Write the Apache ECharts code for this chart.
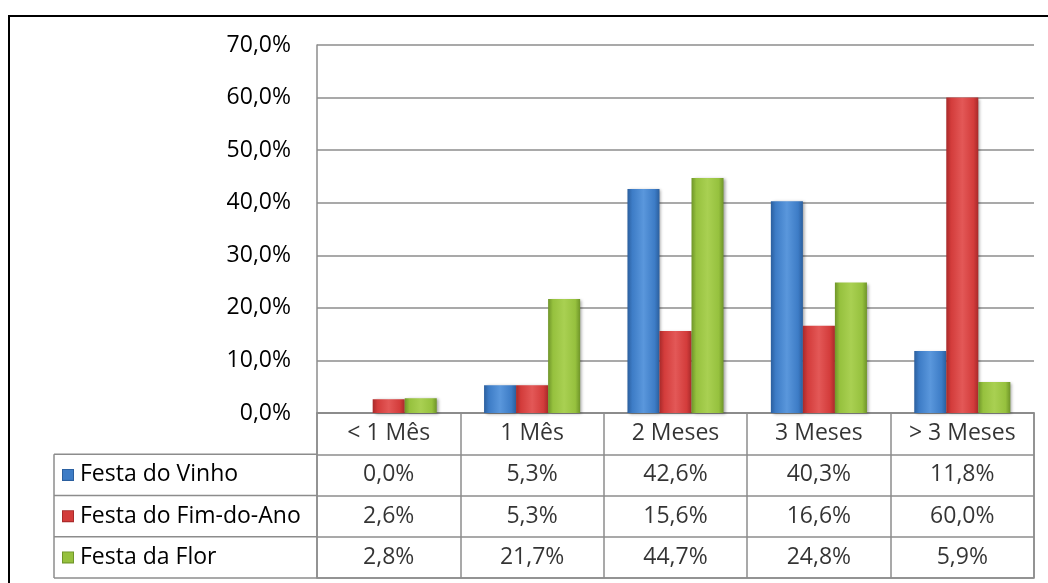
<!DOCTYPE html>
<html>
<head>
<meta charset="utf-8">
<script src="https://cdn.jsdelivr.net/npm/echarts@6/dist/echarts.min.js"></script>
<style>
  html, body { margin: 0; padding: 0; background: #fff; }
  #chart { width: 1048px; height: 583px; }
</style>
</head>
<body>
<div id="chart"></div>
<script>
// Categories (time before the festival) and the share for each festival
const categories = ['< 1 Mês', '1 Mês', '2 Meses', '3 Meses', '> 3 Meses'];
const seriesNames = ['Festa do Vinho', 'Festa do Fim-do-Ano', 'Festa da Flor'];
const festaVinho = [0.0, 5.3, 42.6, 40.3, 11.8];
const festaFimAno = [2.6, 5.3, 15.6, 16.6, 60.0];
const festaFlor = [2.8, 21.7, 44.7, 24.8, 5.9];
const yTicks = [0, 10, 20, 30, 40, 50, 60, 70];

const seriesValues = [festaVinho, festaFimAno, festaFlor];
const baseColors = ['#3d7cc6', '#d33c3b', '#96c13e'];
const edgeColors = ['#2b5f9e', '#a82a2a', '#6f9529'];
const lightColors = ['#5a97dc', '#e35857', '#a9d052'];

const FONT = 'Open Sans';
const FONT_SIZE = 23;
const fmt = v => v.toFixed(1).replace('.', ',') + '%';

// Layout of the plot and the data table beneath it
const plotLeft = 317, plotRight = 1034, plotTop = 45, plotBottom = 413;
const tableBottom = 578;
const rowH = (tableBottom - plotBottom) / 4;
const legendLeft = 54;

function barGradient(i) {
  return new echarts.graphic.LinearGradient(0, 0, 1, 0, [
    { offset: 0, color: edgeColors[i] },
    { offset: 0.15, color: baseColors[i] },
    { offset: 0.5, color: lightColors[i] },
    { offset: 0.85, color: baseColors[i] },
    { offset: 1, color: edgeColors[i] }
  ]);
}

// Table cells: header row with the categories, then one row per festival
const tableCells = [];
categories.forEach((c, ci) => tableCells.push([ci, 0, c]));
seriesValues.forEach((vals, si) => {
  vals.forEach((v, ci) => tableCells.push([ci, si + 1, fmt(v)]));
});

const rowLabels = [''].concat(seriesNames);

const chart = echarts.init(document.getElementById('chart'), null, { renderer: 'canvas' });

const barSeries = seriesValues.map((vals, i) => ({
  name: seriesNames[i],
  type: 'bar',
  xAxisIndex: 0,
  yAxisIndex: 0,
  data: vals,
  barGap: '0%',
  barCategoryGap: '33%',
  itemStyle: {
    color: barGradient(i),
    shadowColor: 'rgba(0,0,0,0.35)',
    shadowBlur: 3,
    shadowOffsetX: 2,
    shadowOffsetY: 1
  },
  animation: false
}));

const legendLines = [];
for (let r = 1; r <= 4; r++) {
  const y = plotBottom + r * rowH;
  legendLines.push({
    type: 'line',
    shape: { x1: legendLeft, y1: y, x2: plotLeft, y2: y },
    style: { stroke: '#8c8c8c', lineWidth: 1.5 }
  });
}
legendLines.push({
  type: 'line',
  shape: { x1: legendLeft, y1: plotBottom + rowH, x2: legendLeft, y2: tableBottom },
  style: { stroke: '#8c8c8c', lineWidth: 1.5 }
});

const rich = {};
seriesNames.forEach((n, i) => {
  rich['k' + i] = { width: 10, height: 10, backgroundColor: baseColors[i], borderColor: edgeColors[i], borderWidth: 1 };
});
rich.t = { fontFamily: FONT, fontSize: FONT_SIZE, color: '#000', padding: [0, 0, 0, 7] };

chart.setOption({
  animation: false,
  backgroundColor: '#fff',
  grid: [
    { left: plotLeft, right: 1048 - plotRight, top: plotTop, height: plotBottom - plotTop },
    { left: plotLeft, right: 1048 - plotRight, top: plotBottom, height: tableBottom - plotBottom,
      show: true, borderColor: '#8c8c8c', borderWidth: 1.5 }
  ],
  xAxis: [
    {
      gridIndex: 0, type: 'category', data: categories,
      axisLine: { show: true, lineStyle: { color: '#8c8c8c', width: 1.5 } },
      axisTick: { show: false }, axisLabel: { show: false }, splitLine: { show: false }
    },
    {
      gridIndex: 1, type: 'category', data: categories,
      axisLine: { show: false }, axisTick: { show: false }, axisLabel: { show: false },
      splitLine: { show: true, interval: 0, lineStyle: { color: '#8c8c8c', width: 1.5 } }
    }
  ],
  yAxis: [
    {
      gridIndex: 0, type: 'value', min: 0, max: 70, interval: 10,
      axisLine: { show: true, lineStyle: { color: '#8c8c8c', width: 1.5 } },
      axisTick: { show: false },
      axisLabel: {
        margin: 26, fontFamily: FONT, fontSize: FONT_SIZE, color: '#000',
        formatter: v => yTicks.includes(v) ? fmt(v) : ''
      },
      splitLine: { show: true, lineStyle: { color: '#8c8c8c', width: 1.5 } }
    },
    {
      gridIndex: 1, type: 'category', data: rowLabels, inverse: true,
      axisLine: { show: false }, axisTick: { show: false },
      axisLabel: {
        align: 'left', margin: plotLeft - 63,
        formatter: (v, idx) => idx === 0 ? '' : '{k' + (idx - 1) + '|}{t|' + v + '}',
        rich: rich
      },
      splitLine: { show: true, interval: 0, lineStyle: { color: '#8c8c8c', width: 1.5 } }
    }
  ],
  series: barSeries.concat([{
    type: 'scatter',
    xAxisIndex: 1,
    yAxisIndex: 1,
    symbolSize: 0,
    data: tableCells,
    label: {
      show: true, position: 'inside',
      formatter: p => p.value[2],
      fontFamily: FONT, fontSize: FONT_SIZE, color: '#000'
    },
    silent: true
  }]),
  graphic: [
    {
      type: 'rect',
      shape: { x: 9, y: 16, width: 1100, height: 700 },
      style: { fill: 'none', stroke: '#000', lineWidth: 2 },
      silent: true
    }
  ].concat(legendLines)
});
</script>
</body>
</html>
